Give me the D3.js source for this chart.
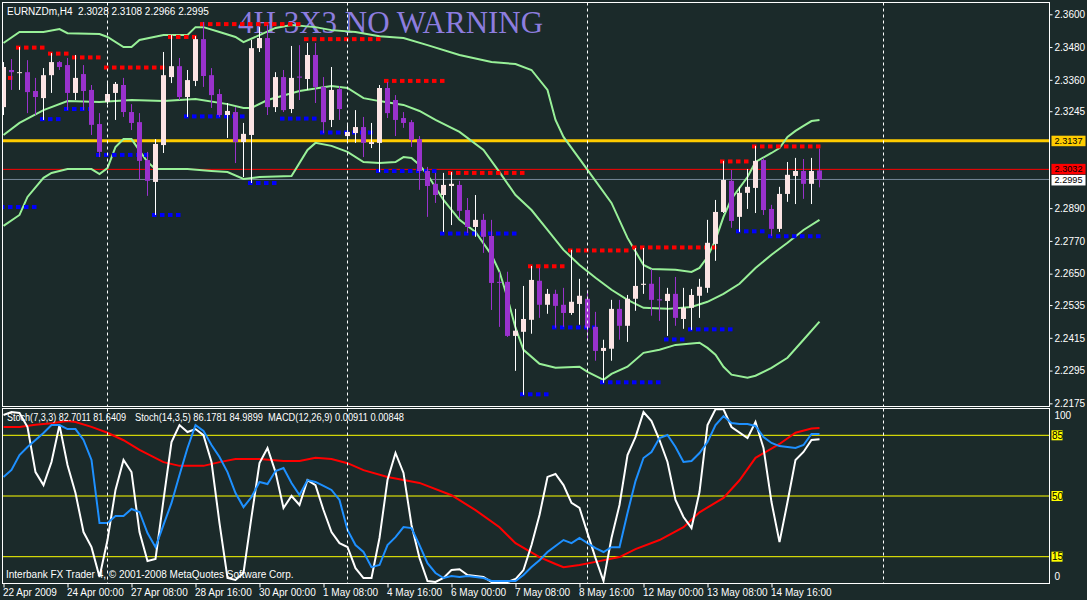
<!DOCTYPE html>
<html>
<head>
<meta charset="utf-8">
<script src="https://cdn.jsdelivr.net/npm/d3@7"></script>
<style>
  body { margin: 0; background: #1b2a2a; }
  svg { display: block; }
  text { font-family: "Liberation Sans", Arial, sans-serif; font-size: 10px; }
</style>
</head>
<body>
<svg></svg>
<script>
// EURNZDm H4 chart, MT4 style

// time axis (bar index -> label)
const timeTicks = [0, 8, 16, 24, 32, 40, 48, 56, 64, 72, 80, 88, 96];
const timeLabels = ['22 Apr 2009', '24 Apr 00:00', '27 Apr 08:00', '28 Apr 16:00', '30 Apr 00:00',
                    '1 May 08:00', '4 May 16:00', '6 May 00:00', '7 May 08:00', '8 May 16:00',
                    '12 May 00:00', '13 May 08:00', '14 May 16:00'];
const gridBars = [13, 43, 73, 110];

// price axis (ticks hidden under the price boxes are left out)
const priceTicks = [2.3600, 2.3480, 2.3360, 2.3245, 2.2890, 2.2770,
                    2.2650, 2.2535, 2.2415, 2.2295, 2.2175];
const yellowLevel = 2.3137,
      redLevel = 2.3032,
      bidLevel = 2.2995;

// candles [open, high, low, close]
const ohlc = [
  [2.3260, 2.3425, 2.3231, 2.3407], [2.3396, 2.3436, 2.3323, 2.3388], [2.3385, 2.3480, 2.3323, 2.3388],
  [2.3388, 2.3432, 2.3238, 2.3315], [2.3319, 2.3367, 2.3231, 2.3297], [2.3293, 2.3403, 2.3213, 2.3377],
  [2.3377, 2.3458, 2.3312, 2.3425], [2.3425, 2.3429, 2.3396, 2.3407], [2.3414, 2.3440, 2.3249, 2.3312],
  [2.3312, 2.3451, 2.3286, 2.3367], [2.3381, 2.3414, 2.3249, 2.3319], [2.3323, 2.3341, 2.3158, 2.3195],
  [2.3198, 2.3238, 2.3077, 2.3096], [2.3279, 2.3348, 2.3271, 2.3308], [2.3312, 2.3352, 2.3213, 2.3345],
  [2.3341, 2.3367, 2.3224, 2.3242], [2.3242, 2.3271, 2.3176, 2.3202], [2.3205, 2.3238, 2.2993, 2.3063],
  [2.3066, 2.3096, 2.2935, 2.2990], [2.2986, 2.3143, 2.2865, 2.3125], [2.3121, 2.3462, 2.3092, 2.3377],
  [2.3370, 2.3524, 2.3348, 2.3410], [2.3410, 2.3440, 2.3286, 2.3297], [2.3297, 2.3396, 2.3224, 2.3359],
  [2.3356, 2.3520, 2.3337, 2.3509], [2.3509, 2.3572, 2.3334, 2.3374], [2.3377, 2.3403, 2.3257, 2.3304],
  [2.3308, 2.3326, 2.3224, 2.3231], [2.3231, 2.3275, 2.3147, 2.3246], [2.3242, 2.3260, 2.3055, 2.3132],
  [2.3132, 2.3202, 2.3004, 2.3162], [2.3158, 2.3506, 2.2982, 2.3476], [2.3476, 2.3553, 2.3462, 2.3513],
  [2.3513, 2.3561, 2.3231, 2.3260], [2.3260, 2.3388, 2.3242, 2.3370], [2.3370, 2.3396, 2.3242, 2.3249],
  [2.3253, 2.3484, 2.3238, 2.3367], [2.3372, 2.3487, 2.3286, 2.3368], [2.3363, 2.3495, 2.3323, 2.3451],
  [2.3451, 2.3495, 2.3275, 2.3334], [2.3334, 2.3370, 2.3165, 2.3205], [2.3213, 2.3407, 2.3187, 2.3323],
  [2.3326, 2.3337, 2.3213, 2.3253], [2.3154, 2.3198, 2.3140, 2.3169], [2.3165, 2.3249, 2.3129, 2.3187],
  [2.3187, 2.3224, 2.3077, 2.3129], [2.3125, 2.3202, 2.3110, 2.3132], [2.3129, 2.3341, 2.3022, 2.3330],
  [2.3330, 2.3352, 2.3220, 2.3238], [2.3286, 2.3304, 2.3154, 2.3213], [2.3220, 2.3242, 2.3184, 2.3202],
  [2.3205, 2.3213, 2.3114, 2.3140], [2.3143, 2.3154, 2.2957, 2.3026], [2.3026, 2.3041, 2.2858, 2.2971],
  [2.2979, 2.3019, 2.2909, 2.2938], [2.2938, 2.3019, 2.2803, 2.2975], [2.2971, 2.3022, 2.2828, 2.2979],
  [2.2975, 2.2990, 2.2854, 2.2880], [2.2883, 2.2927, 2.2799, 2.2821], [2.2821, 2.2938, 2.2785, 2.2847],
  [2.2847, 2.2869, 2.2726, 2.2785], [2.2788, 2.2847, 2.2517, 2.2616], [2.2620, 2.2657, 2.2455, 2.2616],
  [2.2620, 2.2657, 2.2418, 2.2422], [2.2422, 2.2521, 2.2294, 2.2441], [2.2437, 2.2605, 2.2206, 2.2484],
  [2.2481, 2.2678, 2.2430, 2.2627], [2.2624, 2.2671, 2.2488, 2.2536], [2.2536, 2.2594, 2.2503, 2.2576],
  [2.2576, 2.2591, 2.2452, 2.2532], [2.2536, 2.2598, 2.2455, 2.2506], [2.2506, 2.2737, 2.2499, 2.2547],
  [2.2539, 2.2631, 2.2463, 2.2569], [2.2558, 2.2591, 2.2408, 2.2452], [2.2455, 2.2510, 2.2331, 2.2367],
  [2.2367, 2.2408, 2.2250, 2.2378], [2.2375, 2.2554, 2.2331, 2.2521], [2.2521, 2.2554, 2.2408, 2.2459],
  [2.2459, 2.2572, 2.2400, 2.2558], [2.2558, 2.2744, 2.2514, 2.2605], [2.2609, 2.2744, 2.2576, 2.2613],
  [2.2613, 2.2667, 2.2496, 2.2554], [2.2556, 2.2638, 2.2477, 2.2552], [2.2550, 2.2598, 2.2422, 2.2576],
  [2.2576, 2.2638, 2.2459, 2.2488], [2.2484, 2.2598, 2.2448, 2.2525], [2.2525, 2.2594, 2.2444, 2.2572],
  [2.2569, 2.2631, 2.2488, 2.2602], [2.2598, 2.2847, 2.2580, 2.2763], [2.2759, 2.2920, 2.2697, 2.2876],
  [2.2876, 2.3063, 2.2872, 2.2993], [2.2990, 2.3030, 2.2818, 2.2843], [2.2858, 2.2968, 2.2803, 2.2946],
  [2.2946, 2.3033, 2.2887, 2.2968], [2.2964, 2.3118, 2.2872, 2.3063], [2.3066, 2.3074, 2.2865, 2.2883],
  [2.2887, 2.2902, 2.2788, 2.2814], [2.2814, 2.2968, 2.2803, 2.2942], [2.2942, 2.3059, 2.2913, 2.3012],
  [2.3008, 2.3074, 2.2905, 2.3026], [2.3026, 2.3070, 2.2924, 2.2979], [2.2979, 2.3074, 2.2905, 2.3026],
  [2.3028, 2.3108, 2.2966, 2.2995]
];

// bollinger bands [bar, price]
const bandUpper = [[0,2.3495],[2,2.3535],[5,2.3535],[7,2.3546],[8,2.3531],[12,2.3528],[13,2.3517],
  [15,2.3480],[16,2.3480],[17,2.3506],[20,2.3524],[23,2.3524],[24,2.3553],[25,2.3553],[27,2.3535],
  [29,2.3517],[30,2.3498],[32,2.3524],[34,2.3550],[36,2.3561],[39,2.3553],[41,2.3542],[44,2.3535],
  [47,2.3520],[50,2.3513],[53,2.3487],[57,2.3451],[61,2.3425],[64,2.3418],[66,2.3396],[68,2.3323],
  [69,2.3213],[70,2.3151],[73,2.3030],[76,2.2909],[78,2.2781],[80,2.2682],[81,2.2667],[84,2.2664],
  [86,2.2656],[87,2.2671],[88,2.2711],[89,2.2774],[90,2.2858],[91,2.2924],[93,2.3004],[94,2.3059],
  [96,2.3092],[97,2.3110],[98,2.3151],[99,2.3173],[100,2.3191],[101,2.3209],[102,2.3213]];
const bandMiddle = [[0,2.3158],[2,2.3202],[5,2.3249],[8,2.3282],[12,2.3279],[16,2.3286],[20,2.3282],
  [24,2.3290],[28,2.3271],[30,2.3257],[31,2.3257],[33,2.3286],[37,2.3319],[41,2.3337],[43,2.3330],
  [45,2.3293],[47,2.3282],[50,2.3268],[52,2.3246],[54,2.3213],[57,2.3169],[60,2.3103],[62,2.3022],
  [64,2.2938],[66,2.2883],[68,2.2810],[70,2.2737],[72,2.2682],[74,2.2635],[76,2.2591],[78,2.2554],
  [80,2.2525],[83,2.2521],[86,2.2528],[88,2.2547],[90,2.2576],[92,2.2613],[94,2.2671],[96,2.2719],
  [98,2.2763],[100,2.2810],[102,2.2847]];
const bandLower = [[0,2.2825],[2,2.2865],[3,2.2931],[5,2.3001],[6,2.3019],[8,2.3033],[11,2.3033],
  [12,2.3015],[13,2.3037],[14,2.3114],[15,2.3143],[16,2.3143],[18,2.3059],[19,2.3033],[23,2.3033],
  [26,2.3026],[28,2.3022],[30,2.2997],[32,2.3004],[36,2.3008],[38,2.3103],[39,2.3129],[41,2.3118],
  [43,2.3096],[45,2.3059],[47,2.3055],[49,2.3059],[50,2.3077],[51,2.3074],[52,2.3048],[53,2.3012],
  [55,2.2920],[57,2.2847],[59,2.2803],[61,2.2719],[62,2.2657],[63,2.2561],[64,2.2452],[65,2.2371],
  [67,2.2320],[69,2.2305],[72,2.2309],[73,2.2290],[75,2.2261],[76,2.2283],[78,2.2309],[80,2.2360],
  [82,2.2371],[84,2.2389],[87,2.2397],[88,2.2378],[89,2.2353],[90,2.2309],[91,2.2280],[93,2.2269],
  [94,2.2276],[96,2.2305],[98,2.2342],[100,2.2408],[102,2.2474]];

// 3x3 levels [first bar, last bar, price]
const resistance = [[0,1,2.3367],[2,5,2.3478],[6,8,2.3456],[9,12,2.3442],[13,20,2.3405],[21,24,2.3517],
  [25,37,2.3564],[38,47,2.3509],[48,55,2.3356],[56,65,2.3019],[66,70,2.2677],[71,78,2.2735],
  [79,89,2.2746],[90,93,2.3061],[94,102,2.3116]];
const support = [[0,4,2.2894],[5,7,2.3216],[8,11,2.3253],[12,18,2.3085],[19,22,2.2865],[23,30,2.3226],
  [31,34,2.2982],[35,39,2.3218],[40,46,2.3167],[47,54,2.3026],[55,64,2.2797],[65,68,2.2208],
  [69,74,2.2453],[75,82,2.2252],[83,85,2.2409],[86,91,2.2446],[92,95,2.2805],[96,102,2.2787]];

// indicator window
const stochLevels = [85, 50, 15];
const stochFast = [[0,96.7],[1,98.4],[2,97.9],[3,89.8],[4,63.8],[5,56.3],[6,69.6],[7,90.9],[8,67.9],
  [9,51.7],[10,29.2],[11,20.5],[12,3.3],[13,24.6],[14,53.5],[15,70.8],[16,63.8],[17,29.2],[18,12.5],
  [19,13.7],[20,47.7],[21,81.1],[22,90.9],[23,86.9],[24,88.6],[25,85.1],[26,69.6],[27,34.4],[28,2.7],
  [29,1.6],[30,5.6],[31,37.9],[32,69.0],[33,77.7],[34,63.8],[35,43.1],[36,50.0],[37,44.8],[38,59.2],
  [39,56.3],[40,41.9],[41,29.2],[42,22.8],[43,20.6],[44,8.4],[45,2.7],[46,2.7],[47,25.8],[48,59.2],
  [49,74.8],[50,63.3],[51,33.3],[52,14.2],[53,1.0],[54,0.4],[55,2.7],[56,7.3],[57,7.8],[58,4.4],
  [59,3.9],[60,3.3],[61,0.4],[62,0.4],[63,0.4],[64,2.1],[65,7.3],[66,21.7],[67,39.0],[68,61.0],
  [69,62.7],[70,56.3],[71,46.0],[72,43.1],[73,28.6],[74,14.2],[75,1.0],[76,25.8],[77,44.8],[78,73.6],
  [79,84.0],[80,98.4],[81,93.2],[82,82.3],[83,69.6],[84,47.7],[85,37.9],[86,31.5],[87,52.3],[88,90.9],
  [89,100],[90,100],[91,89.8],[93,83.4],[94,92.7],[95,77.7],[96,46.5],[97,23.4],[98,46.5],[99,70.8],
  [100,75.4],[101,82.3],[102,82.7]];
const stochSlow = [[0,60.9],[1,65.0],[2,73.6],[3,78.3],[4,82.3],[5,86.3],[6,90.9],[7,90.9],[8,88.6],
  [9,88.6],[10,82.3],[11,70.8],[12,34.4],[13,34.4],[14,38.5],[15,38.5],[16,42.5],[17,40.8],[18,28.6],
  [19,20.5],[20,33.3],[21,46.0],[22,62.1],[23,77.7],[24,90.9],[25,87.5],[26,79.4],[27,72.5],[28,63.8],
  [29,51.7],[30,43.6],[31,49.4],[32,58.1],[33,56.9],[34,64.4],[35,66.1],[36,57.5],[37,50.6],[38,59.2],
  [39,58.1],[40,55.8],[41,53.5],[42,47.7],[43,30.4],[44,21.7],[45,17.7],[46,9.0],[47,10.2],[48,21.7],
  [49,26.3],[50,32.1],[51,31.5],[52,21.7],[53,11.3],[54,5.6],[55,2.7],[56,3.9],[57,3.3],[58,3.9],
  [59,3.3],[60,2.7],[61,1.0],[62,1.0],[63,1.0],[64,1.0],[65,4.4],[66,9.0],[67,13.0],[68,17.7],
  [69,21.2],[70,24.6],[71,22.8],[72,25.8],[73,22.8],[74,20.0],[75,17.7],[76,20.5],[77,20.5],[78,40.2],
  [79,58.6],[80,71.9],[81,75.4],[82,83.4],[83,85.2],[84,78.3],[85,69.6],[86,70.2],[87,74.8],[88,81.1],
  [89,90.9],[90,96.1],[91,92.1],[92,91.5],[93,91.5],[94,90.4],[95,84.0],[96,80.6],[97,78.8],[98,78.3],
  [99,77.7],[100,79.4],[101,85.8],[102,85.8]];
const macdMain = [[0,0.0092],[2,0.0092],[4,0.0096],[6,0.0099],[8,0.0103],[9,0.0101],[11,0.0092],
  [13,0.0081],[15,0.0067],[17,0.0049],[20,0.0026],[22,0.0019],[25,0.0019],[27,0.0026],[29,0.0032],
  [32,0.0032],[35,0.0028],[37,0.0028],[39,0.0034],[41,0.0032],[43,0.0024],[45,0.0011],[48,-0.0002],
  [52,-0.0013],[56,-0.0036],[59,-0.0064],[62,-0.0096],[64,-0.0126],[67,-0.0152],[69,-0.0165],
  [70,-0.0171],[72,-0.0167],[74,-0.0161],[77,-0.0152],[79,-0.0137],[82,-0.0120],[85,-0.0096],
  [87,-0.0068],[90,-0.0041],[92,-0.0008],[94,0.0034],[97,0.0060],[99,0.0081],[101,0.0089],[102,0.0090]];

// frame geometry
const width = 1087, height = 600;
const left = 2.5, right = 1049.5,
      mainTop = 2.5, mainBottom = 406.5,
      subTop = 408.5, subBottom = 583.5;

const svg = d3.select('svg')
              .attr('width', width)
              .attr('height', height)
              .style('background', '#1b2a2a');

// scales
const x = d3.scaleLinear().domain([0, 102]).range([3.5, 819.5]);
const y = d3.scaleLinear().domain([2.21634, 2.36432]).range([mainBottom, mainTop]);
const ys = d3.scaleLinear().domain([0, 100]).range([582.7, 409.3]);
const ym = d3.scaleLinear().domain([-0.02, 0.0125]).range([582.7, 409.3]);

// clip paths for the two windows
const defs = svg.append('defs');
defs.append('clipPath').attr('id', 'clipMain')
    .append('rect').attr('x', left).attr('y', mainTop)
    .attr('width', right - left).attr('height', mainBottom - mainTop);
defs.append('clipPath').attr('id', 'clipSub')
    .append('rect').attr('x', left).attr('y', subTop)
    .attr('width', right - left).attr('height', subBottom - subTop);

const main = svg.append('g').attr('clip-path', 'url(#clipMain)');
const sub = svg.append('g').attr('clip-path', 'url(#clipSub)');

// vertical dashed grid in both windows
[[mainTop, mainBottom], [subTop, subBottom]].forEach(function(r) {
  svg.append('g').selectAll('line')
     .data(gridBars)
     .enter().append('line')
     .attr('x1', d => x(d)).attr('x2', d => x(d))
     .attr('y1', r[0]).attr('y2', r[1])
     .attr('stroke', '#ffffff')
     .attr('stroke-dasharray', '3,3');
});

// title
main.append('text')
    .attr('x', 238).attr('y', 33)
    .style('font-family', '"Liberation Serif", "Times New Roman", serif')
    .style('font-size', '31px')
    .attr('fill', '#8d7ddf')
    .text('4H 3X3 NO WARNING');

// horizontal price lines
main.append('line')
    .attr('x1', left).attr('x2', right)
    .attr('y1', y(yellowLevel)).attr('y2', y(yellowLevel))
    .attr('stroke', '#ffcc00').attr('stroke-width', 3);
main.append('line')
    .attr('x1', left).attr('x2', right)
    .attr('y1', y(redLevel)).attr('y2', y(redLevel))
    .attr('stroke', '#ff0000');
main.append('line')
    .attr('x1', left).attr('x2', right)
    .attr('y1', y(bidLevel)).attr('y2', y(bidLevel))
    .attr('stroke', '#778899');

// bollinger bands
const bandLine = d3.line().x(d => x(d[0])).y(d => y(d[1]));
[bandUpper, bandMiddle, bandLower].forEach(function(b) {
  main.append('path')
      .attr('d', bandLine(b))
      .attr('fill', 'none')
      .attr('stroke', '#98f098')
      .attr('stroke-width', 2);
});

// level dots, one per bar
function drawLevels(levels, colour) {
  const dots = [];
  levels.forEach(function(s) {
    for (let i = s[0]; i <= s[1]; i++) dots.push([i, s[2]]);
  });
  main.append('g').selectAll('rect')
      .data(dots)
      .enter().append('rect')
      .attr('x', d => x(d[0]) - 3.5)
      .attr('y', d => y(d[1]) - 2)
      .attr('width', 4.5)
      .attr('height', 4)
      .attr('fill', colour);
}
drawLevels(resistance, '#ff0000');
drawLevels(support, '#0000ff');

// candles
const candles = main.append('g').selectAll('g')
    .data(ohlc)
    .enter().append('g');

candles.append('line')
    .attr('x1', (d, i) => x(i)).attr('x2', (d, i) => x(i))
    .attr('y1', d => y(d[1])).attr('y2', d => y(d[2]))
    .attr('stroke', d => d[3] >= d[0] ? '#ffffff' : '#9932cc');

candles.append('rect')
    .attr('x', (d, i) => x(i) - 2.5)
    .attr('width', 5)
    .attr('y', d => y(Math.max(d[0], d[3])))
    .attr('height', d => Math.max(1, Math.abs(y(d[0]) - y(d[3]))))
    .attr('fill', d => d[3] >= d[0] ? '#fbe4e4' : '#9932cc');

// header
svg.append('text')
   .attr('x', 7).attr('y', 14.5)
   .attr('fill', '#ffffff')
   .attr('xml:space', 'preserve')
   .text('EURNZDm,H4  2.3028 2.3108 2.2966 2.2995');

// indicator window: levels, stochastics, macd
sub.append('g').selectAll('line')
   .data(stochLevels)
   .enter().append('line')
   .attr('x1', left).attr('x2', right)
   .attr('y1', d => ys(d)).attr('y2', d => ys(d))
   .attr('stroke', '#ffff00');

sub.append('path')
   .attr('d', d3.line().x(d => x(d[0])).y(d => ym(d[1]))(macdMain))
   .attr('fill', 'none').attr('stroke', '#ff0000').attr('stroke-width', 2);

const stochLine = d3.line().x(d => x(d[0])).y(d => ys(d[1]));
sub.append('path')
   .attr('d', stochLine(stochFast))
   .attr('fill', 'none').attr('stroke', '#ffffff').attr('stroke-width', 2);
sub.append('path')
   .attr('d', stochLine(stochSlow))
   .attr('fill', 'none').attr('stroke', '#1e90ff').attr('stroke-width', 2);

// indicator captions, squeezed to their widths in the window
[[7, 119, 'Stoch(7,3,3) 82.7011 81.6409'],
 [135, 128, 'Stoch(14,3,5) 86.1781 84.9899'],
 [268, 136, 'MACD(12,26,9) 0.00911 0.00848']].forEach(function(c) {
  svg.append('text').attr('x', c[0]).attr('y', 421).attr('fill', '#ffffff')
     .attr('textLength', c[1]).attr('lengthAdjust', 'spacingAndGlyphs')
     .text(c[2]);
});

svg.append('text').attr('x', 6).attr('y', 578).attr('fill', '#ffffff')
   .text('Interbank FX Trader 4, \u00a9 2001-2008 MetaQuotes Software Corp.');

// frames
[[mainTop, mainBottom], [subTop, subBottom]].forEach(function(r) {
  svg.append('rect')
     .attr('x', left).attr('y', r[0])
     .attr('width', right - left).attr('height', r[1] - r[0])
     .attr('fill', 'none').attr('stroke', '#ffffff');
});

// price axis
const yAxis = svg.append('g')
   .attr('transform', 'translate(' + right + ',0)')
   .call(d3.axisRight(y).tickValues(priceTicks).tickFormat(d3.format('.4f'))
           .tickSize(3).tickPadding(2));
yAxis.select('.domain').remove();
yAxis.selectAll('line').attr('stroke', '#ffffff');
yAxis.selectAll('text').attr('fill', '#ffffff')
     .style('font-family', '"Liberation Sans", Arial, sans-serif').style('font-size', '10px');

// price labels on the axis
[[yellowLevel, '#ffcc00', 0], [redLevel, '#ff0000', -0.5], [bidLevel, '#ffffff', 0.5]].forEach(function(p) {
  svg.append('rect')
     .attr('x', right + 2).attr('y', y(p[0]) - 5 + p[2])
     .attr('width', 34).attr('height', 10.5)
     .attr('fill', p[1]);
  svg.append('text')
     .attr('x', right + 5).attr('y', y(p[0]) + 3 + p[2])
     .attr('fill', '#000000')
     .style('font-size', '9px')
     .attr('textLength', 28).attr('lengthAdjust', 'spacingAndGlyphs')
     .text(d3.format('.4f')(p[0]));
});

// indicator scale labels
svg.append('text').attr('x', right + 5).attr('y', ys(100) + 10).attr('fill', '#ffffff').text('100');
svg.append('text').attr('x', right + 5).attr('y', ys(0) - 3).attr('fill', '#ffffff').text('0');
stochLevels.forEach(function(l) {
  svg.append('rect')
     .attr('x', right + 2).attr('y', ys(l) - 5)
     .attr('width', 11).attr('height', 10)
     .attr('fill', '#ffff00');
  svg.append('text')
     .attr('x', right + 2.5).attr('y', ys(l) + 3.5)
     .attr('fill', '#000000')
     .text(l);
});

// time axis
const xAxis = svg.append('g')
   .attr('transform', 'translate(0,' + subBottom + ')')
   .call(d3.axisBottom(x).tickValues(timeTicks).tickFormat((d, i) => timeLabels[i])
           .tickSize(4).tickPadding(1.5));
xAxis.select('.domain').remove();
xAxis.selectAll('line').attr('stroke', '#ffffff');
xAxis.selectAll('text')
     .attr('fill', '#ffffff')
     .attr('text-anchor', 'start')
     .attr('x', -1)
     .style('font-family', '"Liberation Sans", Arial, sans-serif').style('font-size', '10px');
</script>
</body>
</html>
